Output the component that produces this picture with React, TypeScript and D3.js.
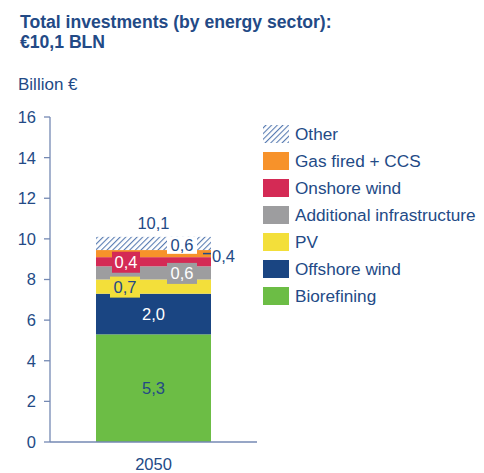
import React from "react";
import * as d3 from "d3";

const categories = ["2050"];
const seriesNames = ["Biorefining", "Offshore wind", "PV", "Additional infrastructure", "Onshore wind", "Gas fired + CCS", "Other"];
const seriesValues = [5.3, 2.0, 0.7, 0.65, 0.45, 0.35, 0.65];
const seriesLabels = ["5,3", "2,0", "0,7", "0,6", "0,4", "0,4", "0,6"];
const seriesColors = ["#6cbd45", "#1a4582", "#f3df3a", "#9d9d9f", "#d42a55", "#f7922a", "hatch"];
const totalLabel = "10,1";
const yTicks = [0, 2, 4, 6, 8, 10, 12, 14, 16];
const legendOrder = ["Other", "Gas fired + CCS", "Onshore wind", "Additional infrastructure", "PV", "Offshore wind", "Biorefining"];

const TEXT = "#234a86";
const AXIS = "#7489b3";
const FONT = "Liberation Sans, Arial, sans-serif";

export default function App() {
  const y = d3.scaleLinear().domain([0, 16]).range([442, 117]);
  const x = d3.scaleBand().domain(categories).range([96, 211]).padding(0);
  const bx = x("2050")!;
  const bw = x.bandwidth();
  const stack: { name: string; y0: number; y1: number; color: string; label: string }[] = [];
  let acc = 0;
  seriesValues.forEach((v, i) => {
    stack.push({ name: seriesNames[i], y0: acc, y1: acc + v, color: seriesColors[i], label: seriesLabels[i] });
    acc += v;
  });
  const cx = bx + bw / 2;
  const fill = (c: string) => (c === "hatch" ? "url(#hatch)" : c);
  const mid = (s: { y0: number; y1: number }) => y((s.y0 + s.y1) / 2);
  const LF = 16.5;

  return (
    <svg width={484} height={473} style={{ position: "absolute", left: 0, top: 0 }} fontFamily={FONT}>
      <defs>
        <pattern id="hatch" patternUnits="userSpaceOnUse" width={4} height={4} patternTransform="rotate(45)">
          <rect width={4} height={4} fill="#ffffff" />
          <line x1={0} y1={0} x2={0} y2={4} stroke="#5a7db3" strokeWidth={2.2} />
        </pattern>
      </defs>
      <text x={20} y={28} fontSize={17.6} fontWeight="bold" fill={TEXT}>Total investments (by energy sector):</text>
      <text x={20} y={48} fontSize={17.6} fontWeight="bold" fill={TEXT}>€10,1 BLN</text>
      <text x={18} y={90} fontSize={17} fill={TEXT}>Billion €</text>

      {stack.map((s) => (
        <rect key={s.name} x={bx} width={bw} y={y(s.y1)} height={y(s.y0) - y(s.y1)} fill={fill(s.color)} />
      ))}

      {/* axes */}
      <line x1={50} x2={50} y1={y(16)} y2={y(0)} stroke={AXIS} strokeWidth={1.3} />
      <line x1={50} x2={257} y1={y(0)} y2={y(0)} stroke={AXIS} strokeWidth={1.6} />
      {yTicks.map((t) => (
        <g key={t}>
          <line x1={44} x2={50} y1={y(t)} y2={y(t)} stroke={AXIS} strokeWidth={1.3} />
          <text x={36} y={y(t)} dy="0.36em" textAnchor="end" fontSize={16.5} fill={TEXT}>{t}</text>
        </g>
      ))}
      <text x={cx} y={470} textAnchor="middle" fontSize={16.5} fill={TEXT}>{categories[0]}</text>

      {/* segment labels */}
      <text x={cx} y={mid(stack[0])} dy="0.36em" textAnchor="middle" fontSize={LF} fill={TEXT}>{stack[0].label}</text>
      <text x={cx} y={mid(stack[1])} dy="0.36em" textAnchor="middle" fontSize={LF} fill="#ffffff">{stack[1].label}</text>
      <rect x={110} y={mid(stack[2]) - 10} width={30} height={21} fill={stack[2].color} />
      <text x={125} y={mid(stack[2])} dy="0.36em" textAnchor="middle" fontSize={LF} fill={TEXT}>{stack[2].label}</text>
      <rect x={167} y={mid(stack[3]) - 10} width={30} height={21} fill={stack[3].color} />
      <text x={182} y={mid(stack[3])} dy="0.36em" textAnchor="middle" fontSize={LF} fill="#ffffff">{stack[3].label}</text>
      <rect x={112} y={mid(stack[4]) - 10} width={28} height={21} fill={stack[4].color} />
      <text x={126} y={mid(stack[4])} dy="0.36em" textAnchor="middle" fontSize={LF} fill="#ffffff">{stack[4].label}</text>
      <rect x={167} y={y(stack[6].y1)} width={30} height={17} fill="#ffffff" />
      <text x={182} y={y(stack[6].y1) + 8} dy="0.36em" textAnchor="middle" fontSize={LF} fill={TEXT}>{stack[6].label}</text>
      <line x1={203} x2={211} y1={mid(stack[5])} y2={mid(stack[5])} stroke={TEXT} strokeWidth={1.5} />
      <text x={212} y={mid(stack[5]) + 2} dy="0.36em" fontSize={LF} fill={TEXT}>{stack[5].label}</text>
      <text x={cx} y={y(acc) - 14} dy="0.36em" textAnchor="middle" fontSize={LF} fill={TEXT}>{totalLabel}</text>

      {/* legend */}
      {legendOrder.map((name, i) => {
        const idx = seriesNames.indexOf(name);
        const yy = 134 + i * 27;
        return (
          <g key={name}>
            <rect x={263} y={yy - 9} width={26} height={18} fill={fill(seriesColors[idx])} />
            <text x={295} y={yy} dy="0.36em" fontSize={17.2} fill={TEXT}>{name}</text>
          </g>
        );
      })}
    </svg>
  );
}
